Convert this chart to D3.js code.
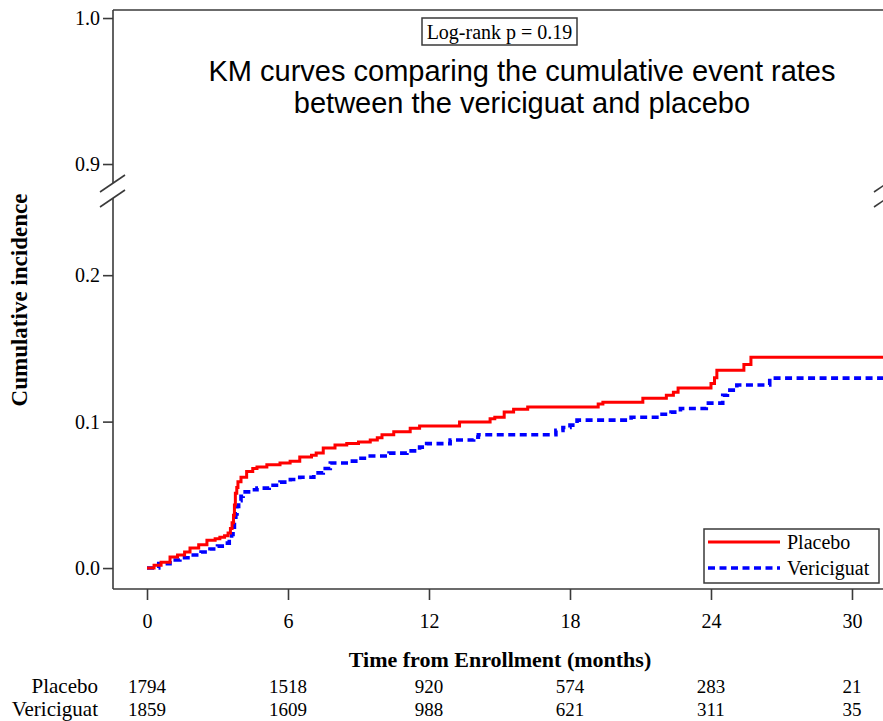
<!DOCTYPE html>
<html>
<head>
<meta charset="utf-8">
<script src="https://cdn.jsdelivr.net/npm/d3@7"></script>
<style>
  body { margin: 0; background: #fff; }
  svg { display: block; }
  text { font-family: "Liberation Serif", "Times New Roman", serif; fill: #000; }
</style>
</head>
<body>
<svg id="chart" width="883" height="721"></svg>
<script>
// ---------- data ----------
const placeboTime = [0, 0.3, 0.6, 0.98, 1.3, 1.6, 1.83, 2.2, 2.55, 2.9, 3.1, 3.3, 3.45, 3.55, 3.62, 3.68, 3.72, 3.76, 3.82, 3.87, 4.0, 4.24, 4.5, 4.68, 5.1, 5.66, 6.09, 6.5, 7.0, 7.2, 7.5, 8.0, 8.5, 9.0, 9.5, 9.8, 10.0, 10.5, 11.2, 11.6, 13.3, 14.6, 14.8, 15.2, 15.6, 16.2, 19.2, 19.4, 21.1, 22.1, 22.4, 22.6, 24.0, 24.15, 24.25, 25.4, 25.7, 31.5];
const placeboRisk = [0, 0.002, 0.004, 0.0075, 0.009, 0.011, 0.0137, 0.016, 0.019, 0.020, 0.021, 0.022, 0.024, 0.027, 0.031, 0.036, 0.043, 0.051, 0.055, 0.059, 0.062, 0.066, 0.068, 0.069, 0.0705, 0.0717, 0.073, 0.0758, 0.077, 0.0785, 0.082, 0.084, 0.085, 0.086, 0.0874, 0.089, 0.091, 0.093, 0.0955, 0.097, 0.0997, 0.102, 0.103, 0.1065, 0.1085, 0.110, 0.112, 0.1133, 0.116, 0.118, 0.120, 0.123, 0.126, 0.130, 0.135, 0.139, 0.144, 0.144];

const vericiguatTime = [0, 0.5, 0.98, 1.4, 1.83, 2.3, 2.68, 3.0, 3.32, 3.5, 3.6, 3.66, 3.72, 3.78, 3.83, 3.9, 4.0, 4.09, 4.4, 4.68, 5.2, 5.66, 6.1, 6.5, 7.1, 7.5, 7.8, 8.6, 9.0, 9.5, 10.3, 11.06, 11.6, 11.9, 12.9, 13.9, 14.1, 17.4, 17.7, 18.0, 18.3, 20.6, 21.8, 22.3, 22.7, 23.8, 24.5, 24.7, 25.1, 26.5, 31.5];
const vericiguatRisk = [0, 0.003, 0.0055, 0.007, 0.0089, 0.011, 0.013, 0.015, 0.017, 0.020, 0.023, 0.026, 0.031, 0.037, 0.042, 0.046, 0.049, 0.052, 0.0535, 0.0546, 0.0565, 0.0587, 0.0605, 0.062, 0.065, 0.068, 0.0717, 0.073, 0.075, 0.0765, 0.0785, 0.080, 0.0826, 0.085, 0.0874, 0.0894, 0.091, 0.094, 0.096, 0.0976, 0.101, 0.103, 0.105, 0.1065, 0.109, 0.1126, 0.118, 0.1215, 0.125, 0.1297, 0.1297];

const xTicks = [0, 6, 12, 18, 24, 30];
const yTicksLower = [0.0, 0.1, 0.2];
const yTicksUpper = [0.9, 1.0];
const groupNames = ["Placebo", "Vericiguat"];
const placeboAtRisk = [1794, 1518, 920, 574, 283, 21];
const vericiguatAtRisk = [1859, 1609, 988, 621, 311, 35];
const pValueText = "Log-rank p = 0.19";
const subtitleLines = ["KM curves comparing the cumulative event rates", "between the vericiguat and placebo"];

// ---------- layout ----------
const svg = d3.select("#chart");
const plotLeft = 113, plotRight = 887, plotTop = 10, plotBottom = 589;
const upperBottom = 183, lowerTop = 198;
const axisColor = "#3a3a3a";

const x = d3.scaleLinear().domain([-1.447, 31.49]).range([plotLeft, plotRight]);
const yUp = d3.scaleLinear().domain([0.887, 1.0055]).range([upperBottom, plotTop]);
const yLow = d3.scaleLinear().domain([-0.0143, 0.2527]).range([plotBottom, lowerTop]);

// clip
svg.append("defs").append("clipPath").attr("id", "plotclip")
  .append("rect").attr("x", plotLeft).attr("y", lowerTop).attr("width", plotRight - plotLeft).attr("height", plotBottom - lowerTop);

// frame lines
const frame = svg.append("g").attr("stroke", axisColor).attr("stroke-width", 1.6).attr("fill", "none");
frame.append("line").attr("x1", plotLeft).attr("x2", plotRight).attr("y1", plotTop).attr("y2", plotTop);
frame.append("line").attr("x1", plotLeft).attr("x2", plotRight).attr("y1", plotBottom).attr("y2", plotBottom);
[plotLeft, plotRight].forEach(xx => {
  frame.append("line").attr("x1", xx).attr("x2", xx).attr("y1", plotTop).attr("y2", upperBottom);
  frame.append("line").attr("x1", xx).attr("x2", xx).attr("y1", lowerTop).attr("y2", plotBottom);
  frame.append("line").attr("x1", xx - 13).attr("x2", xx + 12).attr("y1", upperBottom + 9).attr("y2", upperBottom - 8);
  frame.append("line").attr("x1", xx - 13).attr("x2", xx + 12).attr("y1", lowerTop + 9).attr("y2", lowerTop - 8);
});

// axes
function styleAxis(g) {
  g.select(".domain").remove();
  g.selectAll(".tick line").attr("stroke", axisColor).attr("stroke-width", 1.6);
  g.selectAll(".tick text").style("font-size", "20px").style("font-family", "Liberation Serif, serif");
}
svg.append("g").attr("transform", `translate(${plotLeft},0)`)
  .call(d3.axisLeft(yUp).tickValues(yTicksUpper).tickFormat(d3.format(".1f")).tickSize(10).tickPadding(3))
  .call(styleAxis);
svg.append("g").attr("transform", `translate(${plotLeft},0)`)
  .call(d3.axisLeft(yLow).tickValues(yTicksLower).tickFormat(d3.format(".1f")).tickSize(10).tickPadding(3))
  .call(styleAxis);
svg.append("g").attr("transform", `translate(0,${plotBottom})`)
  .call(d3.axisBottom(x).tickValues(xTicks).tickSize(11).tickPadding(14))
  .call(styleAxis);

// axis titles
svg.append("text").attr("x", 500).attr("y", 667).attr("text-anchor", "middle")
  .style("font-size", "22px").style("font-weight", "bold").text("Time from Enrollment (months)");
svg.append("text").attr("transform", "translate(27,300) rotate(-90)").attr("text-anchor", "middle")
  .style("font-size", "23px").style("font-weight", "bold").text("Cumulative incidence");

// curves
const plot = svg.append("g").attr("clip-path", "url(#plotclip)");
const line = d3.line().x(d => x(d[0])).y(d => yLow(d[1])).curve(d3.curveStepAfter);
const placeboData = placeboTime.map((t, i) => [t, placeboRisk[i]]);
const vericiguatData = vericiguatTime.map((t, i) => [t, vericiguatRisk[i]]);
plot.append("path").datum(vericiguatData).attr("d", line).attr("fill", "none")
  .attr("stroke", "#0000ff").attr("stroke-width", 3.6).attr("stroke-dasharray", "7,4.5");
plot.append("path").datum(placeboData).attr("d", line).attr("fill", "none")
  .attr("stroke", "#ff0000").attr("stroke-width", 3);

// log-rank box
svg.append("rect").attr("x", 422).attr("y", 18).attr("width", 155).attr("height", 27)
  .attr("fill", "#fff").attr("stroke", axisColor).attr("stroke-width", 1.5);
svg.append("text").attr("x", 499.5).attr("y", 39).attr("text-anchor", "middle")
  .style("font-size", "20px").text(pValueText);

// subtitle
svg.selectAll(".subtitle").data(subtitleLines).enter().append("text")
  .attr("x", 522).attr("y", (d, i) => 81 + i * 32).attr("text-anchor", "middle")
  .style("font-family", "Liberation Sans, Arial, sans-serif").style("font-size", "29px").text(d => d);

// legend
const lg = svg.append("g");
lg.append("rect").attr("x", 704).attr("y", 529).attr("width", 175).attr("height", 54)
  .attr("fill", "#fff").attr("stroke", axisColor).attr("stroke-width", 1.5);
lg.append("line").attr("x1", 708).attr("x2", 780).attr("y1", 542).attr("y2", 542)
  .attr("stroke", "#ff0000").attr("stroke-width", 3);
lg.append("line").attr("x1", 708).attr("x2", 780).attr("y1", 568).attr("y2", 568)
  .attr("stroke", "#0000ff").attr("stroke-width", 3.6).attr("stroke-dasharray", "7,4.5");
lg.selectAll(".lt").data(groupNames).enter().append("text")
  .attr("x", 787).attr("y", (d, i) => 549 + i * 26).style("font-size", "20px").text(d => d);

// number at risk table
const riskRows = [placeboAtRisk, vericiguatAtRisk];
riskRows.forEach((row, r) => {
  const yy = 693 + r * 23;
  svg.append("text").attr("x", 98).attr("y", yy).attr("text-anchor", "end")
    .style("font-size", "21px").text(groupNames[r]);
  svg.selectAll(".risk" + r).data(row).enter().append("text")
    .attr("x", (d, i) => x(xTicks[i])).attr("y", yy).attr("text-anchor", "middle")
    .style("font-size", "19px").text(d => d);
});
</script>
</body>
</html>
